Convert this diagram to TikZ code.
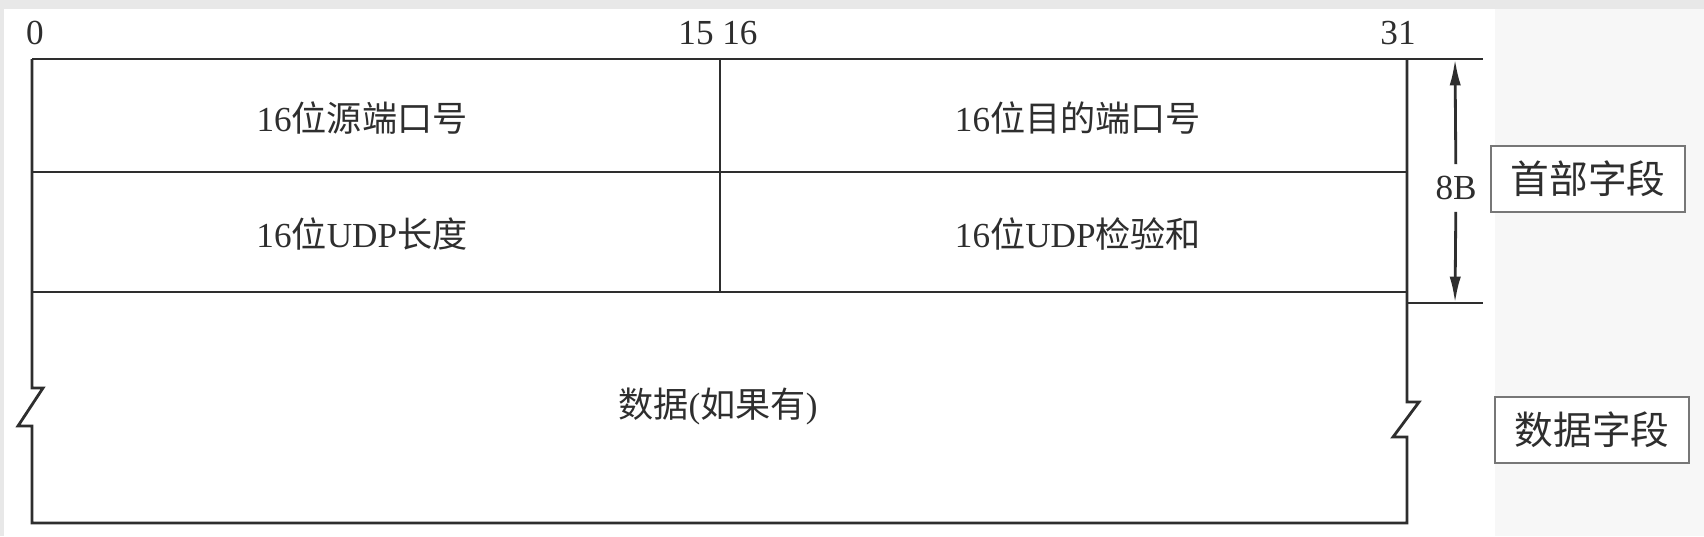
\documentclass[tikz,border=0pt]{standalone}
\usepackage{fontspec}
\setmainfont{Liberation Serif}
\newfontfamily\cjk{Noto Sans CJK SC}
\usetikzlibrary{arrows.meta}
\definecolor{linegray}{HTML}{2E2E2E}
\definecolor{bandgray}{HTML}{E8E8E8}
\definecolor{sidegray}{HTML}{F7F7F7}
\definecolor{boxgray}{HTML}{777777}

\begin{document}
\begin{tikzpicture}[x=0.01cm, y=-0.01cm, line width=0.8pt, color=linegray,
	field/.style={font=\fontsize{10pt}{12pt}\selectfont},
	tag/.style={draw=boxgray, line width=0.5pt, fill=white, minimum width=1.94cm,
		minimum height=0.66cm, font=\cjk\fontsize{11pt}{13pt}\selectfont},
	len/.style={-{Latex[length=7.5pt,width=3.2pt]}}]
	% background
	\fill [bandgray] (0,0) rectangle (1704,536);
	\fill [white] (4,9) rectangle (1495,536);
	\fill [sidegray] (1495,9) rectangle (1704,536);
	\useasboundingbox (0,0) rectangle (1704,536);
	% frame
	\draw (32,59) -- (1483,59);
	\draw (32,172) -- (1407,172);
	\draw (32,292) -- (1407,292);
	\draw (1407,303) -- (1483,303);
	\draw (720,59) -- (720,292);
	\draw (32,59) -- (32,388) -- (43,388) -- (18,426) -- (32,426) -- (32,523)
		-- (1407,523) -- (1407,437) -- (1393,437) -- (1419,402) -- (1407,402) -- (1407,59);
	% bit numbers
	\node [field] (b0) at (35,33) {0};
	\node [field] (b15) at (718,33) {15 16};
	\node [field] (b31) at (1398,33) {31};
	% fields
	\node [field] (srcport) at (362,118) {16{\cjk 位源端口号}};
	\node [field] (dstport) at (1078,118) {16{\cjk 位目的端口号}};
	\node [field] (udplen) at (362,234) {16{\cjk 位}UDP{\cjk 长度}};
	\node [field] (udpsum) at (1078,234) {16{\cjk 位}UDP{\cjk 检验和}};
	\node [field] (payload) at (718,406) {{\cjk 数据}({\cjk 如果有})};
	% header length
	\coordinate (hdtop) at (1455,59);
	\coordinate (hdbot) at (1455,303);
	\node [field, inner sep=3pt] (hdlen) at (1456,188) {8B};
	\draw [len] (hdlen) -- (hdtop);
	\draw [len] (hdlen) -- (hdbot);
	% side tags
	\node [tag] (headtag) at (1588,179) {首部字段};
	\node [tag] (datatag) at (1592,430) {数据字段};
\end{tikzpicture}
\end{document}
